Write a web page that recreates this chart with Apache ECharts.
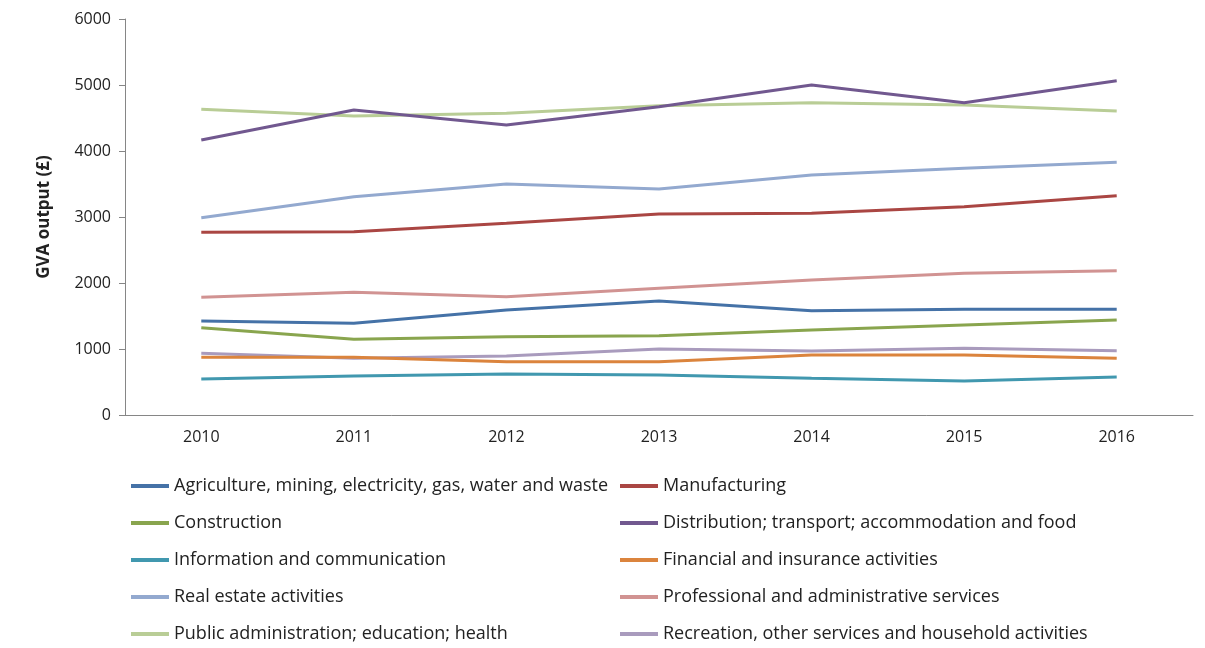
<!DOCTYPE html>
<html>
<head>
<meta charset="utf-8">
<script src="https://cdn.jsdelivr.net/npm/echarts@6/dist/echarts.min.js"></script>
<style>html,body{margin:0;padding:0;background:#fff}#c{width:1205px;height:648px}</style>
</head>
<body>
<div id="c"></div>
<script>
const years = ['2010','2011','2012','2013','2014','2015','2016'];
const yTicks = [0,1000,2000,3000,4000,5000,6000];
const agriculture = [1424,1389,1591,1727,1581,1601,1601];
const manufacturing = [2768,2778,2904,3045,3056,3157,3323];
const construction = [1323,1146,1187,1202,1288,1364,1439];
const distribution = [4167,4621,4394,4672,5000,4732,5066];
const information = [545,591,621,606,556,515,576];
const financial = [874,874,808,808,909,909,859];
const realEstate = [2990,3308,3500,3424,3636,3737,3828];
const professional = [1783,1859,1793,1919,2045,2146,2187];
const publicAdmin = [4632,4530,4571,4687,4732,4697,4606];
const recreation = [934,859,894,1000,970,1010,975];

const names = [
  'Agriculture, mining, electricity, gas, water and waste',
  'Manufacturing',
  'Construction',
  'Distribution; transport; accommodation and food',
  'Information and communication',
  'Financial and insurance activities',
  'Real estate activities',
  'Professional and administrative services',
  'Public administration; education; health',
  'Recreation, other services and household activities'
];
const values = [agriculture, manufacturing, construction, distribution, information, financial, realEstate, professional, publicAdmin, recreation];
const colors = ['#4572A7','#AA4643','#89A54E','#71588F','#4198AF','#DB843D','#93A9CF','#D19392','#B9CD96','#A99BBD'];

const series = names.map((n,i)=>({
  name:n, type:'line', data:values[i], showSymbol:false, symbol:'none',
  lineStyle:{width:3,color:colors[i]}, itemStyle:{color:colors[i]}, z: 10-i
}));

const fontFam = '"Open Sans", "Noto Sans", sans-serif';
const legendCommon = {
  orient:'vertical', icon:'rect', itemWidth:38, itemHeight:4, itemGap:17, padding:0,
  textStyle:{fontFamily:fontFam, fontSize:18, color:'#222', lineHeight:20},
  top:476, height:170
};
const chart = echarts.init(document.getElementById('c'));
chart.setOption({
  animation:false,
  color:colors,
  grid:{left:125, top:19, right:12, bottom:233, containLabel:false},
  legend:[
    Object.assign({}, legendCommon, {left:131, data:names.filter((_,i)=>i%2===0)}),
    Object.assign({}, legendCommon, {left:620, data:names.filter((_,i)=>i%2===1)})
  ],
  xAxis:{
    type:'category', data:years, boundaryGap:true,
    axisLine:{lineStyle:{color:'#868686',width:1}},
    axisTick:{show:false},
    axisLabel:{fontFamily:fontFam, fontSize:16, color:'#222', margin:14}
  },
  yAxis:{
    type:'value', min:0, max:6000, interval:1000,
    name:'GVA output (£)', nameLocation:'middle', nameGap:72, nameRotate:90,
    nameTextStyle:{fontFamily:fontFam, fontSize:17, fontWeight:'bold', color:'#222'},
    axisLine:{show:true, lineStyle:{color:'#868686',width:1}},
    axisTick:{show:true, length:6, lineStyle:{color:'#868686'}},
    splitLine:{show:false},
    axisLabel:{fontFamily:fontFam, fontSize:16, color:'#222', margin:14,
      formatter:v=>yTicks.includes(v)?String(v):''}
  },
  series:series
});
</script>
</body>
</html>
